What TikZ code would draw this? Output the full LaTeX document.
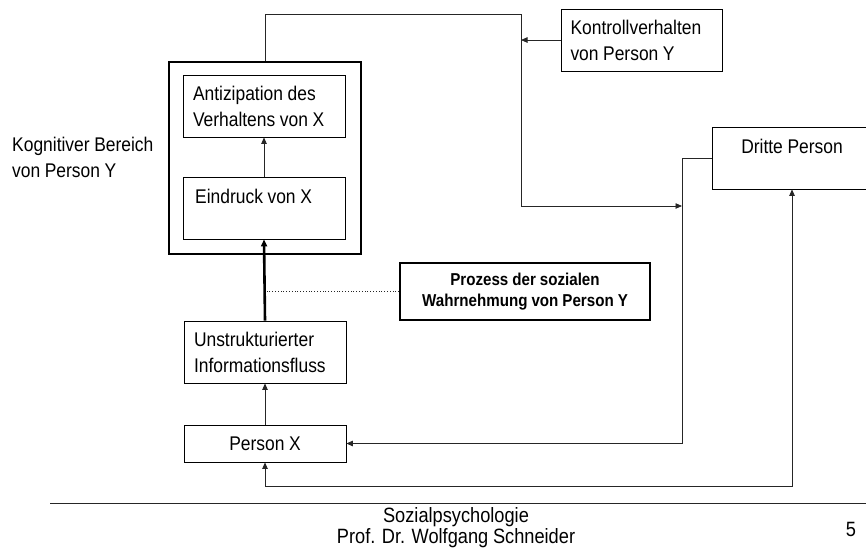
\documentclass[tikz,border=0pt]{standalone}
\usepackage{fontspec}
\setmainfont{Liberation Sans}[FakeStretch=0.88, WordSpace=0.95]
\usetikzlibrary{arrows.meta}
\begin{document}
\begin{tikzpicture}[x=1pt,y=-1pt,
  txt/.style={font=\fontsize{19.8}{26}\selectfont},
  box/.style={txt, draw, line width=0.8pt, inner sep=0pt, minimum width=162pt, minimum height=62pt},
  lbox/.style={box, text width=142pt, align=flush left},
  cbox/.style={box, align=center},
  conn/.style={line width=0.8pt, draw=black!85},
  arr/.style={conn, -{Triangle[length=6.5pt,width=5.5pt]}},
  thickarr/.style={line width=2.6pt, -{Triangle[length=7pt,width=6pt]}},
]
\useasboundingbox (0,0) rectangle (866,547);
\clip (0,0) rectangle (866,547);

% cognitive area frame
\node[draw, line width=2.4pt, minimum width=192pt, minimum height=192pt, inner sep=0pt] (cog) at (265,158) {};
\node[txt, anchor=west, align=flush left, inner sep=0pt] (koglabel) at (12,157.5) {Kognitiver Bereich\\von Person Y};

% boxes
\node[lbox] (anti) at (264,106) {Antizipation des\\Verhaltens von X};
\node[box] (eind) at (264,208) {};
\node[txt, anchor=west, inner sep=0pt] (eindtxt) at (195,196) {Eindruck von X};
\node[lbox] (unstr) at (265,352) {Unstrukturierter\\Informationsfluss};
\node[cbox, minimum height=37pt] (px) at (265,443.5) {Person X};
\node[lbox, minimum width=161pt] (kont) at (641.5,40) {Kontrollverhalten\\von Person Y};
\node[box, minimum width=160pt] (dritte) at (792,158) {};
\node[txt, inner sep=0pt] (drittetxt) at (792,146) {Dritte Person};
\node[draw, line width=2pt, minimum width=250pt, minimum height=57pt, inner sep=0pt, align=center,
      font=\fontsize{17.2}{21}\selectfont\bfseries] (proz) at (525,291.5) {Prozess der sozialen\\Wahrnehmung von Person Y};

% junction coordinates
\coordinate (topR) at (521,14);
\coordinate (midR) at (521,206);
\coordinate (vx) at (682,206);
\coordinate (bot) at (792,486);

% connectors
\draw[arr] (eind.north) -- (anti.south);
\draw[thickarr] (unstr.north) -- (eind.south);
\draw[arr] (px.north) -- (unstr.south);
\draw[conn, dotted] (proz.west) -- (proz.west -| unstr.north);
\draw[arr] (cog.north) |- (topR) -- (midR) -- (vx);
\draw[arr] (kont.west) -- (kont.west -| topR);
\draw[arr] (dritte.west) -| (px.east -| vx) -- (px.east);
\draw[conn, {Triangle[length=6.5pt,width=5.5pt]}-{Triangle[length=6.5pt,width=5.5pt]}] (px.south) |- (bot) -- (dritte.south);

% footer
\coordinate (sepL) at (50,503);
\coordinate (sepR) at (866,503);
\draw[line width=1pt, draw=black!85] (sepL) -- (sepR);
\node[align=center, inner sep=0pt, font=\fontsize{20.7}{21}\selectfont] (footer) at (456,527.5) {Sozialpsychologie\\Prof. Dr. Wolfgang Schneider};
\node[inner sep=0pt, font=\fontsize{20.7}{21}\selectfont] (page) at (851,529) {5};
\end{tikzpicture}
\end{document}
